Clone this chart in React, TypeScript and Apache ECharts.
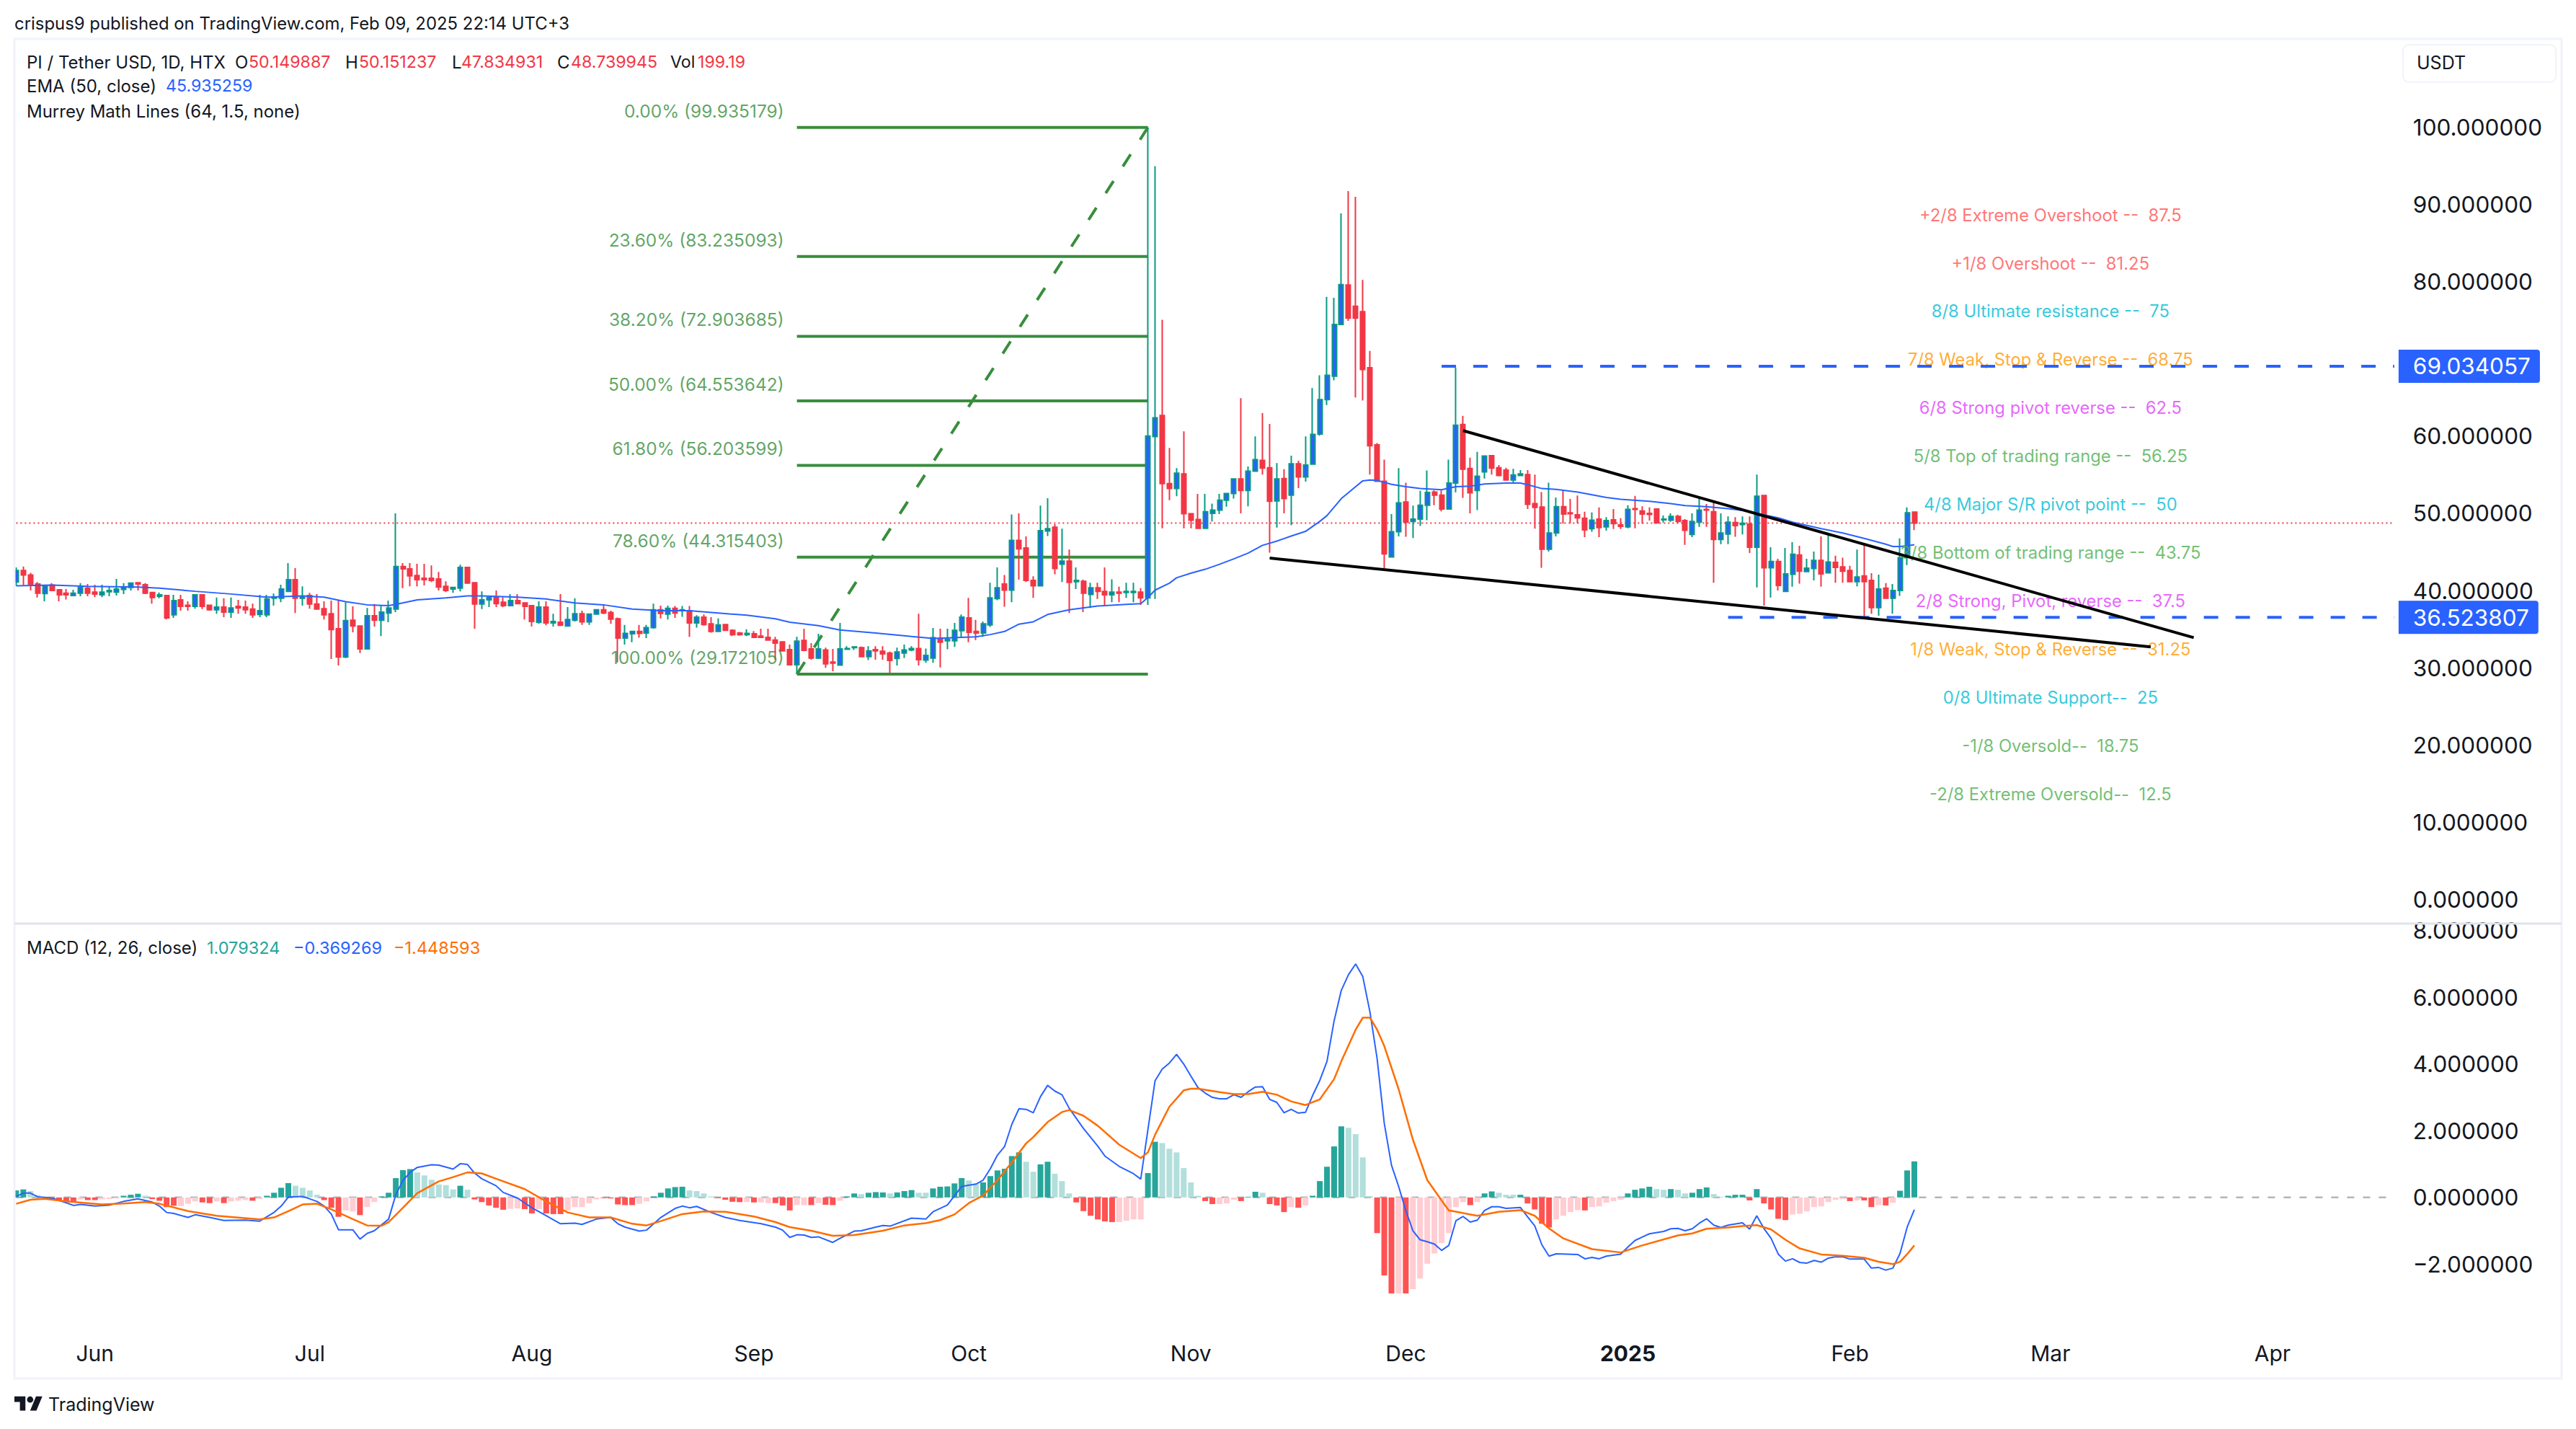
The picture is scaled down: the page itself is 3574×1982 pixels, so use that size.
import React, { useEffect, useRef } from "react";
import * as echarts from "echarts";

const FONT = "Inter, 'Noto Sans', sans-serif";
const INK = "#131722";
const UP_EDGE = "#089981";
const BLUE = "#2962ff";
const RED = "#f23645";
const ORANGE = "#ff6d00";
const FIB = "#388e3c";

// one category per day, first bar 2024-05-21, the axis runs on into April 2025
const categories: string[] = [];
for (let i = 0; i < 333; i++) {
  categories.push(new Date(Date.UTC(2024, 4, 21 + i)).toISOString().slice(0, 10));
}
const monthIndex = [11, 41, 72, 103, 133, 164, 194, 225, 256, 284, 315];
const monthLabels = ["Jun", "Jul", "Aug", "Sep", "Oct", "Nov", "Dec", "2025", "Feb", "Mar", "Apr"];
const priceTicks = [0, 10, 20, 30, 40, 50, 60, 80, 90, 100];
const macdTicks = [-2, 0, 2, 4, 6, 8];

// open, close, high, low
const candles: number[][] = [
  [41.1,42.6,43.0,40.6],[42.6,42.0,43.1,40.7],[42.0,40.85,42.3,40.0],[40.85,39.65,41.1,39.1],[39.6,40.6,40.66,38.6],
  [40.7,40.0,40.95,40.0],[40.1,39.45,40.1,38.6],[39.65,39.45,40.2,38.85],[39.35,39.65,40.1,39.25],[39.65,40.4,40.95,39.25],
  [40.3,39.65,40.85,39.25],[39.8,39.55,40.75,39.15],[39.45,39.8,40.75,39.15],[39.85,40.0,40.47,39.25],[39.8,40.2,41.5,39.35],
  [40.15,40.45,40.95,39.55],[40.4,40.95,40.95,40.0],[41.0,40.85,41.05,40.0],[40.75,39.65,40.95,39.55],[39.75,39.1,39.75,38.3],
  [39.25,39.45,39.75,39.0],[39.35,36.45,39.45,36.25],[36.85,38.7,39.45,36.45],[38.8,37.95,39.45,37.4],[38.1,37.95,38.6,37.4],
  [37.95,39.45,39.45,37.65],[39.45,37.95,39.45,37.6],[38.1,37.5,38.1,37.4],[37.5,37.85,39.1,37.0],[37.85,37.2,39.0,36.55],
  [37.2,37.75,39.1,36.45],[37.95,37.75,38.8,37.0],[37.85,37.5,38.7,37.0],[37.6,36.85,38.3,36.45],[36.9,37.4,39.45,36.55],
  [36.85,38.9,39.45,36.55],[39.0,39.15,39.6,38.05],[39.0,40.2,40.75,38.5],[39.9,41.4,43.55,39.9],[41.4,39.0,42.9,37.1],
  [39.0,39.15,40.55,38.05],[39.35,38.25,39.7,37.65],[38.25,37.6,39.55,37.6],[37.65,36.85,38.6,36.25],[37.0,34.95,38.7,31.15],
  [35.05,31.4,38.7,30.3],[31.4,36.1,38.5,31.25],[36.15,35.4,37.95,34.6],[35.4,32.45,35.45,31.9],[32.45,36.75,37.75,32.45],
  [36.75,36.15,38.25,35.35],[36.15,37.2,38.05,34.1],[37.1,37.75,38.7,35.9],[37.6,43.1,50.0,37.2],[43.1,42.8,43.55,40.3],
  [42.8,41.9,43.55,40.55],[41.95,41.4,43.45,40.55],[41.6,41.4,43.45,40.65],[41.6,41.3,43.25,41.1],[41.5,40.45,42.4,40.0],
  [40.55,40.0,41.2,39.8],[40.2,40.4,40.47,39.7],[40.3,43.0,43.35,39.9],[43.0,40.95,43.0,40.95],[41.0,38.25,41.0,35.05],
  [38.25,38.8,39.9,37.6],[38.8,39.1,39.25,37.85],[39.1,38.3,40.0,37.85],[38.5,38.05,39.15,37.85],[38.05,38.7,39.55,38.05],
  [38.7,38.3,39.55,38.3],[38.4,37.95,38.4,36.25],[38.05,36.0,38.05,35.35],[35.9,37.85,38.6,35.7],[37.85,35.8,38.6,35.5],
  [35.8,36.0,37.0,35.35],[35.9,35.5,39.55,35.4],[35.4,36.25,37.85,35.4],[36.15,37.0,39.0,36.0],[37.0,35.95,37.4,35.55],
  [35.95,36.95,36.95,35.55],[36.95,37.5,37.5,36.95],[37.5,37.1,38.05,36.95],[37.15,36.3,37.4,35.7],[36.35,33.85,36.5,30.7],
  [33.85,34.45,35.55,33.0],[34.4,34.7,34.7,33.3],[34.7,34.45,35.55,33.9],[34.5,35.2,35.55,33.85],[35.2,37.5,38.3,35.05],
  [37.5,37.05,38.05,36.4],[36.95,37.7,38.05,36.25],[37.7,37.1,38.0,36.45],[37.4,37.5,38.0,36.6],[37.4,35.8,38.0,34.0],
  [35.8,36.55,36.8,35.2],[36.55,35.6,36.9,35.45],[35.7,34.7,36.55,34.55],[34.7,35.55,36.4,34.7],[35.6,34.85,35.6,34.75],
  [34.85,34.3,35.0,34.1],[34.5,34.3,34.65,34.15],[34.3,34.45,35.0,34.1],[34.4,33.95,34.75,33.95],[34.1,33.95,35.05,33.85],
  [33.95,33.6,35.05,33.6],[33.6,33.2,34.0,31.05],[33.35,32.2,33.45,32.15],[32.35,30.4,33.0,30.4],[30.4,33.45,34.0,29.2],
  [33.55,32.25,35.05,32.15],[32.45,31.25,33.2,31.05],[31.25,32.45,34.4,31.15],[32.3,30.5,32.6,30.0],[30.75,30.6,32.45,29.55],
  [30.35,32.45,35.8,30.3],[32.4,32.5,32.8,32.3],[32.6,32.7,32.75,32.3],[32.6,31.45,32.75,31.45],[31.45,32.2,32.8,31.0],
  [32.35,32.2,32.8,31.05],[32.15,31.8,32.8,31.05],[31.9,30.95,32.1,29.35],[31.2,32.05,32.6,30.3],[31.9,32.3,33.0,31.25],
  [32.3,32.5,32.8,32.15],[32.5,31.05,37.0,30.3],[31.0,31.6,32.5,30.65],[31.25,33.9,35.15,30.65],[33.8,33.3,35.05,30.05],
  [33.5,33.7,35.05,32.4],[33.5,34.85,35.8,32.7],[34.8,36.55,36.9,34.0],[36.45,34.6,39.05,33.3],[34.7,34.5,36.2,33.6],
  [34.5,35.7,36.0,34.0],[35.55,39.05,41.0,35.3],[38.95,40.35,43.0,38.75],[40.85,40.05,42.0,37.9],[40.05,46.5,49.85,38.5],
  [46.5,45.4,50.0,41.4],[45.5,41.3,47.0,41.1],[41.3,40.6,41.85,39.05],[40.6,47.75,51.0,40.55],[47.7,48.0,51.95,47.05],
  [48.2,42.85,48.6,42.1],[43.4,43.8,48.0,41.1],[43.8,41.05,45.3,37.1],[41.15,41.3,43.0,40.2],[41.2,39.65,41.4,37.2],
  [39.5,40.35,41.0,37.75],[40.35,39.9,41.0,38.9],[39.9,39.45,43.0,38.05],[39.45,39.8,41.45,38.5],[39.8,39.65,40.5,38.5],
  [39.75,39.9,41.0,39.05],[39.75,39.9,41.0,38.5],[39.8,39.05,40.3,38.15],[39.05,60.0,99.935,38.15],[59.93,62.35,94.93,38.9],
  [62.65,53.85,75.05,48.05],[53.85,53.2,58.45,51.7],[53.2,55.2,55.85,52.2],[55.1,49.95,60.6,48.05],[49.95,49.1,49.95,48.05],
  [49.2,48.05,52.5,48.05],[48.05,50.2,52.5,48.05],[50.0,50.4,51.25,48.95],[50.4,51.7,52.5,49.9],[51.7,52.55,52.55,50.85],
  [52.55,54.45,54.45,51.9],[54.45,52.95,64.9,50.0],[52.95,55.45,56.05,50.9],[55.45,56.95,59.95,55.45],[56.85,55.85,62.95,55.0],
  [55.9,51.55,61.55,44.9],[51.6,54.45,56.5,48.15],[54.5,51.9,55.7,50.0],[52.35,56.4,57.45,48.45],[56.4,54.7,56.8,53.25],
  [54.7,56.25,59.95,54.1],[56.35,60.2,66.2,56.35],[60.25,64.7,67.85,60.05],[64.7,67.85,78.0,64.0],[67.75,74.45,77.9,67.2],
  [74.45,79.6,88.8,74.45],[79.55,75.25,91.7,74.9],[76.8,75.25,90.95,65.0],[76.1,68.6,80.2,64.6],[68.85,58.75,71.0,55.0],
  [58.85,54.15,59.1,54.1],[54.15,44.75,56.95,42.9],[44.35,47.6,49.9,44.35],[47.6,51.35,55.85,47.0],[51.45,48.85,53.95,46.95],
  [48.95,49.25,51.0,46.8],[49.25,51.05,52.9,48.35],[51.05,52.7,55.55,49.1],[52.75,52.35,52.95,51.05],[52.35,50.55,52.95,50.25],
  [50.55,53.9,56.95,50.45],[53.9,61.4,68.85,52.7],[61.5,55.7,62.6,52.0],[55.8,52.65,57.2,50.0],[52.95,54.8,57.95,50.4],
  [55.35,57.4,57.4,54.5],[57.45,55.85,57.45,55.0],[55.9,54.9,56.25,54.9],[55.6,54.3,55.9,54.3],[54.3,54.95,55.75,53.9],
  [54.9,55.1,55.6,54.85],[55.0,51.15,55.6,50.55],[51.25,50.75,55.0,48.0],[50.8,45.35,52.75,42.95],[45.35,47.45,53.95,45.05],
  [47.45,50.85,52.05,47.0],[50.85,49.9,52.95,48.65],[50.05,49.95,51.85,48.7],[49.8,49.4,52.3,48.7],[49.35,47.85,50.2,46.9],
  [48.0,49.1,50.1,47.6],[49.25,48.15,50.75,46.9],[48.25,49.05,49.5,47.75],[49.15,48.65,50.55,47.95],[48.5,48.3,49.35,47.95],
  [48.25,50.5,51.05,48.05],[50.6,50.5,52.25,48.05],[50.3,49.9,50.9,48.65],[50.0,49.85,50.75,49.05],[50.55,48.75,50.55,48.65],
  [49.15,49.25,49.7,48.8],[49.1,49.6,50.0,48.9],[49.6,48.95,49.8,48.75],[49.05,47.8,49.25,45.9],[47.25,48.95,50.0,46.9],
  [48.85,50.4,52.05,48.25],[50.5,50.4,51.2,48.25],[50.2,46.6,51.4,41.0],[46.6,47.45,50.0,46.0],[47.3,48.85,49.6,46.0],
  [48.8,48.4,49.5,46.95],[48.55,48.7,49.6,47.25],[48.6,45.6,49.6,44.85],[45.6,52.2,55.0,40.4],[52.3,42.95,52.3,38.05],
  [42.95,43.75,45.6,39.1],[43.75,40.65,44.1,40.0],[39.9,42.15,45.5,39.9],[42.1,44.7,46.25,40.5],[44.6,42.5,45.8,40.9],
  [42.45,42.9,44.1,42.45],[42.85,43.9,45.05,41.3],[43.9,42.15,47.0,40.5],[42.3,43.7,47.2,42.3],[43.65,43.0,44.5,41.0],
  [43.05,42.5,44.25,41.0],[42.6,41.15,43.2,41.15],[41.15,41.75,45.3,40.55],[41.9,41.15,46.0,36.3],[41.3,37.8,42.25,37.0],
  [37.8,40.2,42.05,36.75],[40.3,39.0,40.95,39.0],[39.0,40.0,40.85,37.0],[40.0,44.25,46.75,39.3],[44.3,50.05,50.75,43.3],
  [50.15,48.74,50.15,47.83],
];

// EMA: [bar, value]
const emaPoints: number[][] = [
  [0,40.6],[5,40.7],[10,40.55],[17,40.45],[20,40.3],[25,39.9],[30,39.55],[35,39.15],[40,39.3],[43,39.15],[46,38.55],[49,38.15],
  [52,38.05],[53,38.2],[56,38.8],[60,39.05],[63,39.3],[65,39.3],[70,39.15],[74,38.9],[78,38.4],[82,38.15],[86,37.6],[90,37.4],
  [94,37.4],[98,37.1],[102,36.8],[106,36.35],[108,35.9],[112,35.45],[115,34.9],[120,34.5],[125,34.05],[128,33.8],[132,33.95],
  [134,34.0],[136,34.3],[138,34.7],[140,35.65],[142,35.95],[144,36.9],[147,37.5],[151,38.0],[155,38.2],[157,38.3],[158,39.1],
  [159,40.05],[161,40.95],[162,41.65],[164,42.25],[166,42.75],[168,43.4],[170,44.1],[172,44.85],[174,45.85],[176,46.4],[178,47.05],
  [180,47.65],[182,48.95],[183,49.7],[185,51.9],[187,53.45],[188,54.2],[189,54.3],[190,54.25],[192,53.75],[194,53.45],[196,53.2],
  [199,53.05],[201,53.45],[203,53.5],[205,53.8],[208,53.9],[210,53.9],[211,53.7],[213,53.2],[215,53.1],[218,52.75],[222,52.05],
  [224,51.8],[228,51.55],[231,51.25],[233,51.0],[236,50.85],[239,50.6],[242,50.25],[243,50.0],[246,49.4],[248,48.85],[252,48.0],
  [255,47.45],[258,46.75],[261,46.0],[262,45.7],[263,45.7],[264,45.8],[265,45.94],
];

const fibPercents = ["0.00%", "23.60%", "38.20%", "50.00%", "61.80%", "78.60%", "100.00%"];
const fibPrices = [99.935179, 83.235093, 72.903685, 64.553642, 56.203599, 44.315403, 29.172105];
const fibStart = 109;
const fibEnd = 158;
const fibDiagonal = [[109, 29.172105], [158, 99.935179]];

const murreyTexts = [
  "+2/8 Extreme Overshoot --  87.5", "+1/8 Overshoot --  81.25", "8/8 Ultimate resistance --  75",
  "7/8 Weak, Stop & Reverse --  68.75", "6/8 Strong pivot reverse --  62.5", "5/8 Top of trading range --  56.25",
  "4/8 Major S/R pivot point --  50", "3/8 Bottom of trading range --  43.75", "2/8 Strong, Pivot, reverse --  37.5",
  "1/8 Weak, Stop & Reverse --  31.25", "0/8 Ultimate Support--  25", "-1/8 Oversold--  18.75", "-2/8 Extreme Oversold--  12.5",
];
const murreyLevels = [87.5, 81.25, 75, 68.75, 62.5, 56.25, 50, 43.75, 37.5, 31.25, 25, 18.75, 12.5];
const murreyColors = ["#ff5252", "#ff5252", "#00bcd4", "#ff9800", "#e040fb", "#4caf50", "#00bcd4", "#4caf50", "#e040fb", "#ff9800", "#00bcd4", "#4caf50", "#4caf50"];
const murreyBar = 284;

const upperWedge = [[202, 60.7], [304, 33.9]];
const lowerWedge = [[175, 44.2], [298, 32.7]];
const resistance = [[199, 69.034057], [332, 69.034057]];
const support = [[239, 36.523807], [332, 36.523807]];
const lastClose = [[0, 48.739945], [332, 48.739945]];
const zeroLine = [[0, 0], [332, 0]];

const macdHist = [
  .21,.24,.19,.07,.03,-.05,-.10,-.12,-.12,-.06,
  -.08,-.08,-.06,-.05,-.03,.05,.08,.11,.05,-.05,
  -.10,-.29,-.25,-.26,-.19,-.12,-.15,-.17,-.12,-.17,
  -.12,-.10,-.08,-.10,-.05,.05,.14,.29,.43,.35,
  .29,.21,.08,-.08,-.31,-.58,-.39,-.42,-.53,-.29,
  -.14,.03,.14,.58,.82,.85,.75,.66,.53,.39,
  .37,.24,.35,.23,-.06,-.14,-.24,-.31,-.37,-.34,
  -.33,-.35,-.48,-.35,-.48,-.50,-.50,-.39,-.29,-.29,
  -.17,-.06,-.02,-.03,-.21,-.23,-.23,-.19,-.12,.03,
  .14,.27,.31,.32,.21,.19,.12,.03,-.02,-.07,
  -.13,-.14,-.14,-.15,-.15,-.17,-.17,-.24,-.39,-.23,
  -.23,-.23,-.17,-.22,-.23,-.10,.03,.12,.10,.14,
  .16,.15,.12,.15,.19,.22,.14,.14,.27,.32,
  .33,.42,.58,.51,.40,.45,.64,.81,.86,1.24,
  1.35,1.07,.77,.99,1.07,.71,.49,.12,-.15,-.41,
  -.55,-.66,-.72,-.74,-.74,-.70,-.66,-.66,.73,1.67,
  1.63,1.46,1.35,.88,.45,.05,-.11,-.20,-.20,-.18,
  -.07,-.11,.02,.17,.14,-.20,-.24,-.44,-.29,-.31,
  -.24,.05,.49,.92,1.53,2.13,2.09,1.90,1.20,.04,
  -1.07,-2.34,-2.88,-2.88,-2.88,-2.75,-2.43,-1.99,-1.68,-1.37,
  -1.07,-.29,-.14,-.23,-.14,.12,.18,.14,.08,.08,
  .08,-.18,-.36,-.79,-.90,-.66,-.55,-.44,-.38,-.39,
  -.29,-.27,-.16,-.11,-.07,.12,.23,.27,.32,.25,
  .23,.25,.23,.12,.14,.25,.30,.10,.02,.05,
  .08,.08,-.09,.25,-.18,-.36,-.64,-.68,-.51,-.49,
  -.42,-.29,-.27,-.14,-.07,-.05,-.11,-.09,-.09,-.29,
  -.23,-.24,-.16,.20,.81,1.08,
];
// G rising above zero, g falling above zero, R falling below zero, r rising below zero
const macdTone = (
  "GGgggRRRRr" + "RRrrrGGGgR" + "RRRrrrRRrR" + "rrrRrGGGGg" + "gggRRRrrRr" + "rGGGGGgggg" + "ggGgRRRRRr" +
  "rRRrRRRrrr" + "rrRRRRRrrG" + "GGGGggggRR" + "RRrRrrRRRr" + "rRrRRrGGgG" + "GGgGGGggGG" + "GGGggGGGGG" +
  "GggGGgggRR" + "RRRRrrrrGG" + "ggggggRRrr" + "rRGGgRRRrR" + "rGGGGGgggg" + "RRRrRrrrrr" + "rrrRrGGggg" +
  "GRRRRrrrrR" + "rrrrrGGGGg" + "gGggGGGggG" + "GGRGRRRRrr" + "rrrrrrRrRR" + "rRrGGG"
).split("");
const toneColors: Record<string, string> = { G: "#26a69a", g: "#b2dfdb", R: "#ff5252", r: "#ffcdd2" };

const macdLine: number[][] = [
  [0,.03],[1,.13],[2,.13],[3,.02],[5,-.02],[7,-.16],[8,-.24],[9,-.21],[11,-.26],[13,-.23],[15,-.12],[17,-.04],[19,-.14],[20,-.26],
  [21,-.45],[22,-.48],[24,-.6],[25,-.52],[27,-.6],[29,-.69],[32,-.68],[34,-.71],[36,-.45],[37,-.26],[38,.01],[40,.03],[42,-.12],
  [43,-.26],[44,-.5],[45,-.97],[47,-.97],[48,-1.25],[49,-1.08],[50,-1.0],[52,-.65],[53,.08],[54,.51],[55,.75],[56,.9],[58,.98],
  [59,.97],[61,.85],[62,1.01],[63,.99],[64,.73],[65,.56],[67,.35],[68,.15],[70,-.02],[72,-.31],[74,-.55],[76,-.79],[78,-.77],
  [79,-.81],[81,-.65],[83,-.6],[84,-.79],[85,-.89],[87,-1.01],[88,-.98],[90,-.6],[92,-.33],[93,-.26],[94,-.31],[95,-.27],[97,-.45],
  [99,-.6],[101,-.69],[104,-.79],[106,-.89],[107,-.98],[108,-1.2],[109,-1.12],[110,-1.13],[111,-1.2],[112,-1.18],[114,-1.35],
  [115,-1.23],[117,-1.01],[118,-1.0],[120,-.89],[121,-.84],[122,-.86],[125,-.62],[127,-.65],[128,-.43],[130,-.23],[132,.33],[134,.40],
  [135,.52],[136,.86],[137,1.27],[138,1.53],[139,2.19],[140,2.66],[141,2.64],[142,2.54],[143,3.02],[144,3.36],[145,3.19],[146,3.08],
  [147,2.68],[149,2.07],[151,1.54],[152,1.24],[154,.93],[156,.71],[157,.55],[158,2.03],[159,3.5],[160,3.85],[161,4.03],[162,4.29],
  [163,4.0],[164,3.64],[165,3.29],[166,3.13],[167,3.0],[168,2.96],[169,2.96],[170,3.08],[171,3.0],[172,3.17],[173,3.31],[174,3.32],
  [175,2.94],[176,2.85],[177,2.54],[178,2.64],[179,2.53],[180,2.55],[181,3.06],[182,3.51],[183,4.08],[184,5.3],[185,6.21],[186,6.68],
  [187,7.0],[188,6.62],[189,5.56],[190,4.16],[191,2.22],[192,.97],[193,.33],[194,-.39],[195,-1.0],[196,-1.27],[197,-1.33],[198,-1.4],
  [199,-1.59],[200,-1.44],[201,-.7],[202,-.57],[203,-.74],[204,-.68],[205,-.39],[206,-.28],[207,-.28],[208,-.33],[210,-.3],[211,-.58],
  [212,-.85],[213,-1.42],[214,-1.76],[215,-1.69],[218,-1.71],[219,-1.84],[220,-1.8],[221,-1.84],[222,-1.76],[224,-1.7],[225,-1.49],
  [226,-1.29],[227,-1.19],[228,-1.09],[230,-1.02],[231,-.94],[232,-.93],[233,-1.0],[234,-.94],[235,-.77],[236,-.64],[237,-.83],[238,-.9],
  [239,-.83],[241,-.76],[242,-.95],[243,-.55],[244,-.93],[245,-1.23],[246,-1.7],[247,-1.91],[248,-1.84],[249,-1.95],[250,-1.97],
  [251,-1.89],[252,-1.94],[253,-1.82],[254,-1.78],[255,-1.78],[256,-1.85],[258,-1.85],[259,-2.12],[260,-2.1],[261,-2.18],[262,-2.12],
  [263,-1.68],[264,-.89],[265,-.37],
];

const signalLine: number[][] = [
  [0,-.19],[2,-.07],[4,-.04],[7,-.12],[12,-.21],[15,-.18],[18,-.14],[20,-.19],[24,-.41],[28,-.55],[34,-.66],[36,-.6],[38,-.41],[40,-.21],
  [42,-.19],[44,-.36],[47,-.65],[49,-.84],[51,-.85],[52,-.74],[54,-.31],[56,.13],[59,.48],[61,.61],[63,.75],[65,.72],[67,.56],[71,.25],
  [74,-.12],[77,-.45],[80,-.6],[83,-.6],[86,-.79],[88,-.84],[90,-.71],[93,-.5],[96,-.42],[99,-.43],[103,-.57],[106,-.74],[108,-.89],
  [111,-1.0],[114,-1.15],[117,-1.13],[121,-1.0],[124,-.84],[127,-.77],[129,-.68],[131,-.51],[133,-.17],[135,.06],[137,.52],[139,1.05],
  [141,1.62],[142,1.81],[144,2.26],[146,2.56],[147,2.62],[149,2.45],[151,2.15],[154,1.58],[157,1.18],[158,1.35],[159,1.88],[161,2.72],
  [163,3.21],[164,3.26],[165,3.26],[168,3.16],[170,3.1],[172,3.1],[174,3.17],[176,3.08],[178,2.88],[180,2.77],[182,2.94],[184,3.55],
  [185,4.08],[187,5.03],[188,5.39],[189,5.39],[190,5.03],[191,4.54],[193,3.25],[195,1.73],[197,.52],[199,-.09],[200,-.39],[204,-.55],
  [207,-.43],[210,-.38],[212,-.55],[214,-.93],[216,-1.23],[220,-1.55],[224,-1.65],[227,-1.44],[232,-1.14],[234,-1.08],[236,-.94],
  [239,-.9],[241,-.86],[243,-.83],[245,-.96],[247,-1.27],[249,-1.53],[252,-1.71],[255,-1.75],[258,-1.81],[260,-1.93],[262,-2.0],
  [263,-1.93],[264,-1.7],[265,-1.44],
];

const LOGO = "M14 22H7V11H0V4h14v18zM28 22h-8l7.5-18h8L28 22zM24 8a4 4 0 1 1-8 0a4 4 0 1 1 8 0z";

const text = (x: number, y: number, t: string, fill: string, size = 24, extra: any = {}) => ({
  type: "text", x, y, z: 120, silent: true,
  style: { text: t, fill, font: `${extra.weight || 400} ${size}px ${FONT}`, textAlign: extra.align || "left", textVerticalAlign: "middle" },
});

const plain = (name: string, data: number[][], color: string, width: number, z: number, extra: any = {}) => ({
  type: "line", name, data, z, symbol: "none", silent: true, animation: false, smooth: false,
  lineStyle: { color, width, type: extra.dash || "solid", cap: extra.cap || "butt" },
  ...(extra.series || {}),
});

const pill = (label: string) => ({
  endLabel: {
    show: true, formatter: label, color: "#ffffff", fontFamily: FONT, fontSize: 31.5, backgroundColor: BLUE,
    padding: [8, 13, 8, 20], borderRadius: [0, 4, 4, 0], distance: 6, lineHeight: 30,
  },
});

function buildOption() {
  const fibLines = fibPrices.map((p, i) =>
    plain(`fib ${fibPercents[i]}`, [[fibStart, p], [fibEnd, p]], FIB, 4, 1));
  return {
    animation: false,
    backgroundColor: "#ffffff",
    textStyle: { fontFamily: FONT },
    grid: [
      { left: 17.43, top: 53, width: 3309.4, height: 1228, outerBoundsMode: "none" },
      { left: 17.43, top: 1282, width: 3309.4, height: 564, outerBoundsMode: "none" },
    ],
    xAxis: [
      { type: "category", gridIndex: 0, data: categories, axisLine: { show: false }, axisTick: { show: false }, axisLabel: { show: false }, splitLine: { show: false } },
      {
        type: "category", gridIndex: 1, data: categories, axisLine: { show: false }, axisTick: { show: false }, splitLine: { show: false },
        axisLabel: {
          show: true, margin: 16, color: INK, fontSize: 30, fontFamily: FONT, hideOverlap: false,
          interval: (i: number) => monthIndex.includes(i),
          formatter: (_: string, i: number) => {
            const l = monthLabels[monthIndex.indexOf(i)] ?? "";
            return l === "2025" ? `{b|${l}}` : l;
          },
          rich: { b: { fontWeight: 700, fontSize: 30, color: INK, fontFamily: FONT } },
        },
      },
    ],
    yAxis: [
      {
        type: "value", gridIndex: 0, position: "right", min: -3.1075, max: 111.486, scale: true,
        axisLine: { show: false }, axisTick: { show: false }, splitLine: { show: false },
        axisLabel: { customValues: priceTicks, color: INK, fontSize: 31.5, fontFamily: FONT, align: "left", margin: 21, formatter: (v: number) => v.toFixed(6) },
      },
      {
        type: "value", gridIndex: 1, position: "right", min: -4.004, max: 8.19, scale: true,
        axisLine: { show: false }, axisTick: { show: false }, splitLine: { show: false },
        axisLabel: {
          customValues: macdTicks, color: INK, fontSize: 31.5, fontFamily: FONT, align: "left", margin: 21,
          formatter: (v: number) => (v < 0 ? "\u2212" : "") + Math.abs(v).toFixed(6),
        },
      },
    ],
    series: [
      plain("last close", lastClose, RED, 2, 1, { dash: [2, 4] }),
      ...fibLines,
      plain("fib trend", fibDiagonal, FIB, 4, 1, { dash: [20, 24.05] }),
      {
        type: "candlestick", name: "PI / USDT", z: 2, silent: true, animation: false, barWidth: 6.5,
        data: candles.map(([o, c, h, l]) => [o, c, l, h]),
        itemStyle: { color: BLUE, color0: RED, borderColor: UP_EDGE, borderColor0: RED, borderWidth: 2 },
      },
      plain("EMA 50", emaPoints, BLUE, 2, 3),
      {
        type: "scatter", name: "fib labels", z: 3, silent: true, animation: false, symbolSize: 0,
        data: fibPrices.map((p, i) => ({ value: [fibStart, p], name: `${fibPercents[i]} (${p.toFixed(6)})` })),
        label: { show: true, position: "left", distance: 0, offset: [-18, -23], formatter: "{b}", color: FIB, fontSize: 24.5, fontFamily: FONT },
      },
      {
        type: "scatter", name: "murrey", z: 3, silent: true, animation: false, symbolSize: 0,
        data: murreyLevels.map((v, i) => ({
          value: [murreyBar, v], name: murreyTexts[i],
          label: { color: murreyColors[i] },
        })),
        label: { show: true, position: "inside", offset: [0, -12], formatter: "{b}", fontSize: 23.8, fontFamily: FONT },
      },
      plain("resistance", resistance, BLUE, 4, 4, { dash: [20, 24], series: pill("69.034057") }),
      plain("support", support, BLUE, 4, 4, { dash: [20, 24], series: pill("36.523807") }),
      plain("upper wedge", upperWedge, "#000000", 4, 5),
      plain("lower wedge", lowerWedge, "#000000", 4, 5),
      plain("zero", zeroLine, "#b2b5be", 2.5, 1, { dash: [10, 12], series: { xAxisIndex: 1, yAxisIndex: 1 } }),
      {
        type: "bar", name: "histogram", xAxisIndex: 1, yAxisIndex: 1, z: 2, silent: true, animation: false, barWidth: 8,
        data: macdHist.map((v, i) => ({ value: v, itemStyle: { color: toneColors[macdTone[i]] } })),
      },
      plain("MACD", macdLine, BLUE, 2, 3, { series: { xAxisIndex: 1, yAxisIndex: 1 } }),
      plain("signal", signalLine, ORANGE, 2.5, 3, { series: { xAxisIndex: 1, yAxisIndex: 1 } }),
    ],
    graphic: { elements: [
      { type: "rect", z: 100, silent: true, shape: { x: 0, y: 54, width: 19, height: 1858 }, style: { fill: "#ffffff" } },
      { type: "rect", z: 110, silent: true, shape: { x: 20, y: 54, width: 3534, height: 1858 }, style: { fill: "none", stroke: "#f0f3fa", lineWidth: 3 } },
      { type: "line", z: 110, silent: true, shape: { x1: 20, y1: 1281, x2: 3554, y2: 1281 }, style: { stroke: "#e0e3eb", lineWidth: 3 } },
      { type: "rect", z: 110, silent: true, shape: { x: 3334, y: 62, width: 212, height: 52, r: 8 }, style: { fill: "#ffffff", stroke: "#f0f3fa", lineWidth: 2 } },
      text(3353, 87, "USDT", INK, 25),
      text(20, 32, "crispus9 published on TradingView.com, Feb 09, 2025 22:14 UTC+3", INK, 23.9),
      text(37, 86, "PI / Tether USD, 1D, HTX", INK),
      text(326, 86, "O", INK), text(345, 86, "50.149887", RED, 23.2),
      text(479, 86, "H", INK), text(498, 86, "50.151237", RED, 23.2),
      text(627, 86, "L", INK), text(640, 86, "47.834931", RED, 23.2),
      text(773, 86, "C", INK), text(792, 86, "48.739945", RED, 23.2),
      text(930, 86, "Vol", INK, 23.2), text(968, 86, "199.19", RED, 23.2),
      text(37, 119, "EMA (50, close)", INK), text(230, 119, "45.935259", BLUE, 23.2),
      text(37, 154, "Murrey Math Lines (64, 1.5, none)", INK),
      text(37, 1314, "MACD (12, 26, close)", INK),
      text(287, 1314, "1.079324", "#26a69a", 23.5), text(407, 1314, "\u22120.369269", BLUE, 23.5), text(546, 1314, "\u22121.448593", ORANGE, 23.5),
      { type: "tvlogo", z: 120, silent: true, x: 20, y: 1932.5, scaleX: 1.09, scaleY: 1.09, style: { fill: "#131722" } },
      text(67, 1948, "TradingView", INK, 25),
    ] },
  };
}

export default function App() {
  const ref = useRef<HTMLDivElement>(null);
  useEffect(() => {
    document.body.style.margin = "0";
    document.body.style.background = "#ffffff";
    echarts.graphic.registerShape("tvlogo", echarts.graphic.extendPath(LOGO, {}));
    const chart = echarts.init(ref.current!, undefined, { renderer: "svg" });
    chart.setOption(buildOption() as any);
    return () => chart.dispose();
  }, []);
  return <div ref={ref} style={{ position: "fixed", left: 0, top: 0, width: 3574, height: 1982 }} />;
}
